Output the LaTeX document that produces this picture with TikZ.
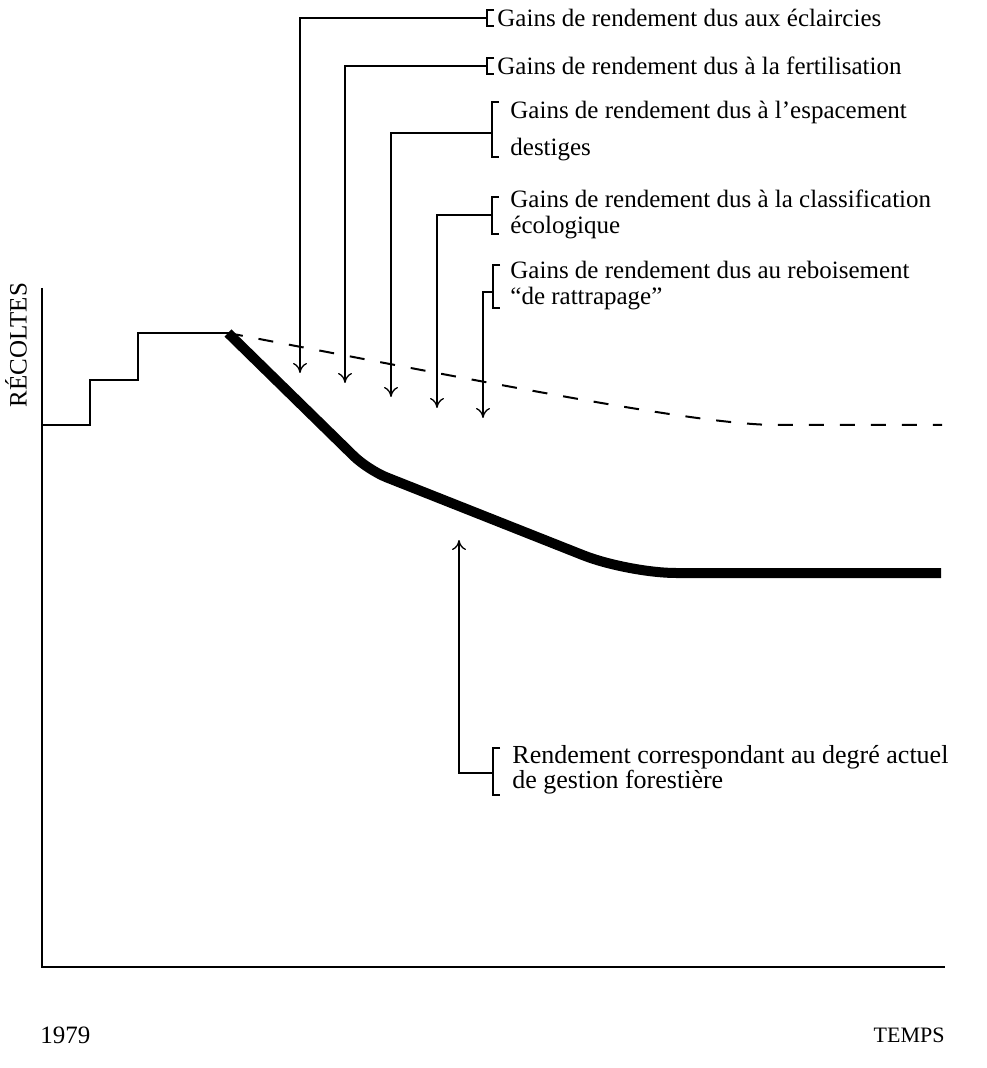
\documentclass[tikz,border=0pt]{standalone}
\usepackage{fontspec}
\setmainfont{Liberation Serif}
\usetikzlibrary{arrows.meta}

\tikzset{
  gainlabel/.style={anchor=west, inner sep=0pt, align=left,
    font=\fontsize{12.5}{13}\selectfont},
  pointer/.style={-{To[length=5pt,width=7pt]}, line width=0.65pt},
  bracket/.style={line width=0.9pt},
  harvest/.style={line width=5pt},
  potential/.style={line width=1pt, dash pattern=on 7.5pt off 8pt}
}

\begin{document}
\begin{tikzpicture}[x=0.5pt,y=-0.5pt]

            \useasboundingbox (0,0) rectangle (986,1068);

            % axes
            \draw[line width=1.3pt] (42,288) -- (42,967) -- (945,967);

            \node[rotate=90, inner sep=0pt, font=\fontsize{12.5}{13}\selectfont] (ylab) at (16,345) {RÉCOLTES};
            \node[anchor=west, inner sep=0pt, font=\fontsize{12.5}{13}\selectfont] (year) at (40,1035) {1979};
            \node[anchor=east, inner sep=0pt, font=\fontsize{11}{12}\selectfont] (xlab) at (945,1035) {TEMPS};

            % past harvests
            \draw[line width=1pt] (42,425) -- (90,425) -- (90,380)
            -- (138,380) -- (138,333) -- (228,333);

            % current management
            \draw[harvest] (228,333) [rounded corners=10pt] -- (368,470)
            [rounded corners=24pt] -- (628,573) -- (941,573);

            % with gains
            \draw[potential] (228,333) .. controls (500,385) and (700,425) .. (777,425)
            -- (942,425);

            % arrow tips
            \coordinate (t1) at (300,373);
            \coordinate (t2) at (345,383);
            \coordinate (t3) at (391,397);
            \coordinate (t4) at (437,408);
            \coordinate (t5) at (483,418);
            \coordinate (t6) at (459,540);

            % labels
            \node[gainlabel] (g1) at (497,18) {Gains de rendement dus aux éclaircies};
            \node[gainlabel] (g2) at (497,66) {Gains de rendement dus à la fertilisation};
            \node[gainlabel, font=\fontsize{12.5}{18.5}\selectfont] (g3) at (510,131)
            {Gains de rendement dus à l’espacement\\destiges};
            \node[gainlabel] (g4) at (510,214) {Gains de rendement dus à la classification\\écologique};
            \node[gainlabel] (g5) at (510,286) {Gains de rendement dus au reboisement\\“de rattrapage”};
            \node[gainlabel, font=\fontsize{13}{12.5}\selectfont] (g6) at (512,770)
            {Rendement correspondant au degré actuel\\de gestion forestière};

            % brackets
            \draw[bracket] (494,10) -- (487,10) -- (487,26) -- (494,26);
            \draw[bracket] (494,58) -- (487,58) -- (487,74) -- (494,74);
            \draw[bracket] (499,102) -- (492,102) -- (492,157) -- (499,157);
            \draw[bracket] (499,197) -- (492,197) -- (492,234) -- (499,234);
            \draw[bracket] (500,265) -- (493,265) -- (493,308) -- (500,308);
            \draw[bracket] (500,748) -- (493,748) -- (493,795) -- (500,795);

            \coordinate (b1) at (487,18);
            \coordinate (b2) at (487,66);
            \coordinate (b3) at (492,133);
            \coordinate (b4) at (492,215);
            \coordinate (b5) at (493,292);
            \coordinate (b6) at (493,773);

            % connectors
            \draw[pointer] (b1) -| (t1);
            \draw[pointer] (b2) -| (t2);
            \draw[pointer] (b3) -| (t3);
            \draw[pointer] (b4) -| (t4);
            \draw[pointer] (b5) -| (t5);
            \draw[pointer] (b6) -| (t6);

\end{tikzpicture}
\end{document}
